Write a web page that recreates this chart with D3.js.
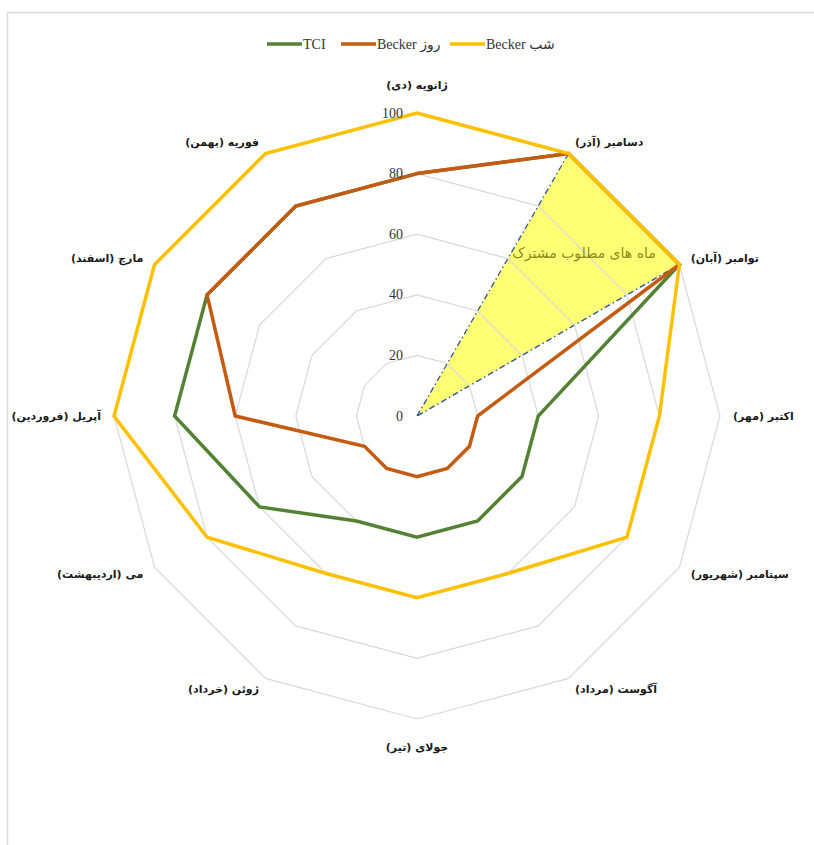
<!DOCTYPE html>
<html>
<head>
<meta charset="utf-8">
<script src="https://cdn.jsdelivr.net/npm/d3@7"></script>
<style>
  html, body { margin: 0; padding: 0; background: #fff; }
  svg { display: block; }
</style>
</head>
<body>
<svg id="chart" width="814" height="845"></svg>
<script>
const categories = ["ژانویه (دی)","دسامبر (آذر)","توامبر (آبان)","اکتبر (مهر)","سپتامبر (شهریور)","آگوست (مرداد)","جولای (تیر)","ژوئن (خرداد)","می (اردیبهشت)","آپریل (فروردین)","مارچ (اسفند)","فوریه (بهمن)"];
const seriesNames = ["TCI", "Becker روز", "Becker شب"];
const tciValues = [80,100,100,40,40,40,40,40,60,80,80,80];
const beckerDayValues = [80,100,100,20,20,20,20,20,20,60,80,80];
const beckerNightValues = [100,100,100,80,80,60,60,60,80,100,100,100];
const tickValues = [0,20,40,60,80,100];
const highlightCategories = ["دسامبر (آذر)","توامبر (آبان)"];
const highlightLabel = "ماه های مطلوب مشترک";

const colors = ["#548235", "#C55A11", "#FFC000"];
const seriesValues = [tciValues, beckerDayValues, beckerNightValues];

const svg = d3.select("#chart");
const cx = 417, cy = 416, R = 303;

const r = d3.scaleLinear().domain([0, 100]).range([0, R]);
const angle = d3.scalePoint().domain(categories).range([0, 2 * Math.PI]).padding(0);
// scalePoint over full circle would put last at 2PI; use band-like index instead
const ang = c => categories.indexOf(c) * 2 * Math.PI / categories.length;
const pt = (c, v) => [cx + r(v) * Math.sin(ang(c)), cy - r(v) * Math.cos(ang(c))];

// outer frame
svg.append("rect").attr("x", 7.5).attr("y", 12.5).attr("width", 830).attr("height", 860)
  .attr("fill", "none").attr("stroke", "#d9d9d9").attr("stroke-width", 1.5);

const g = svg.append("g").attr("transform", `translate(${cx},${cy})`);

// highlight triangle
const hl = [[0, 0]].concat(highlightCategories.map(c => {
  const p = pt(c, 100); return [p[0] - cx, p[1] - cy];
}));
g.append("path")
  .attr("d", d3.line()(hl) + "Z")
  .attr("fill", "#ffff75")
  .attr("stroke", "#2f5597")
  .attr("stroke-width", 1.3)
  .attr("stroke-dasharray", "6,3,1.5,3");

// grid
const radialLine = d3.lineRadial()
  .angle(d => ang(d.c))
  .radius(d => r(d.v))
  .curve(d3.curveLinearClosed);

tickValues.filter(t => t > 0).forEach(t => {
  g.append("path")
    .attr("d", radialLine(categories.map(c => ({c, v: t}))))
    .attr("fill", "none")
    .attr("stroke", "#d9d9d9")
    .attr("stroke-width", 1.2);
});

// series
seriesValues.forEach((vals, i) => {
  g.append("path")
    .attr("d", radialLine(categories.map((c, j) => ({c, v: vals[j]}))))
    .attr("fill", "none")
    .attr("stroke", colors[i])
    .attr("stroke-width", 3.5)
    .attr("stroke-linejoin", "miter");
});

// tick labels
g.selectAll("text.tick").data(tickValues).enter().append("text")
  .attr("class", "tick")
  .attr("x", -14)
  .attr("y", d => -r(d))
  .attr("text-anchor", "end")
  .attr("dominant-baseline", "central")
  .attr("font-family", "'Liberation Serif', 'Times New Roman', serif")
  .attr("font-size", 14)
  .attr("fill", "#333")
  .text(d => d);

// category labels
categories.forEach(c => {
  const a = ang(c);
  const s = Math.sin(a), co = Math.cos(a);
  let off = 13, anchor;
  if (Math.abs(s) < 0.01) { off = 28; anchor = "middle"; }
  else if (s > 0) anchor = "end";   // rtl: end = left edge
  else anchor = "start";            // rtl: start = right edge
  const rr = R + off;
  g.append("text")
    .attr("x", rr * s)
    .attr("y", -rr * co)
    .attr("direction", "rtl")
    .attr("text-anchor", anchor)
    .attr("dominant-baseline", "central")
    .attr("font-family", "'DejaVu Sans', sans-serif")
    .attr("font-weight", "bold")
    .attr("font-size", 11)
    .attr("fill", "#1a1a1a")
    .text(c);
});

// highlight label
g.append("text")
  .attr("x", 584 - cx)
  .attr("y", 253 - cy)
  .attr("direction", "rtl")
  .attr("text-anchor", "middle")
  .attr("dominant-baseline", "central")
  .attr("font-family", "'DejaVu Sans', sans-serif")
  .attr("font-size", 14)
  .attr("fill", "#8c8c19")
  .text(highlightLabel);

// legend
const legendX = [267, 341, 450];
const legend = svg.append("g");
seriesNames.forEach((name, i) => {
  const lg = legend.append("g").attr("transform", `translate(${legendX[i]},44)`);
  lg.append("line").attr("x1", 0).attr("x2", 35).attr("y1", 0).attr("y2", 0)
    .attr("stroke", colors[i]).attr("stroke-width", 3.5);
  lg.append("text").attr("x", 36).attr("y", 0)
    .attr("dominant-baseline", "central")
    .attr("font-family", "'Liberation Serif', 'DejaVu Sans', serif")
    .attr("font-size", 14)
    .attr("fill", "#333")
    .text(name);
});
</script>
</body>
</html>
